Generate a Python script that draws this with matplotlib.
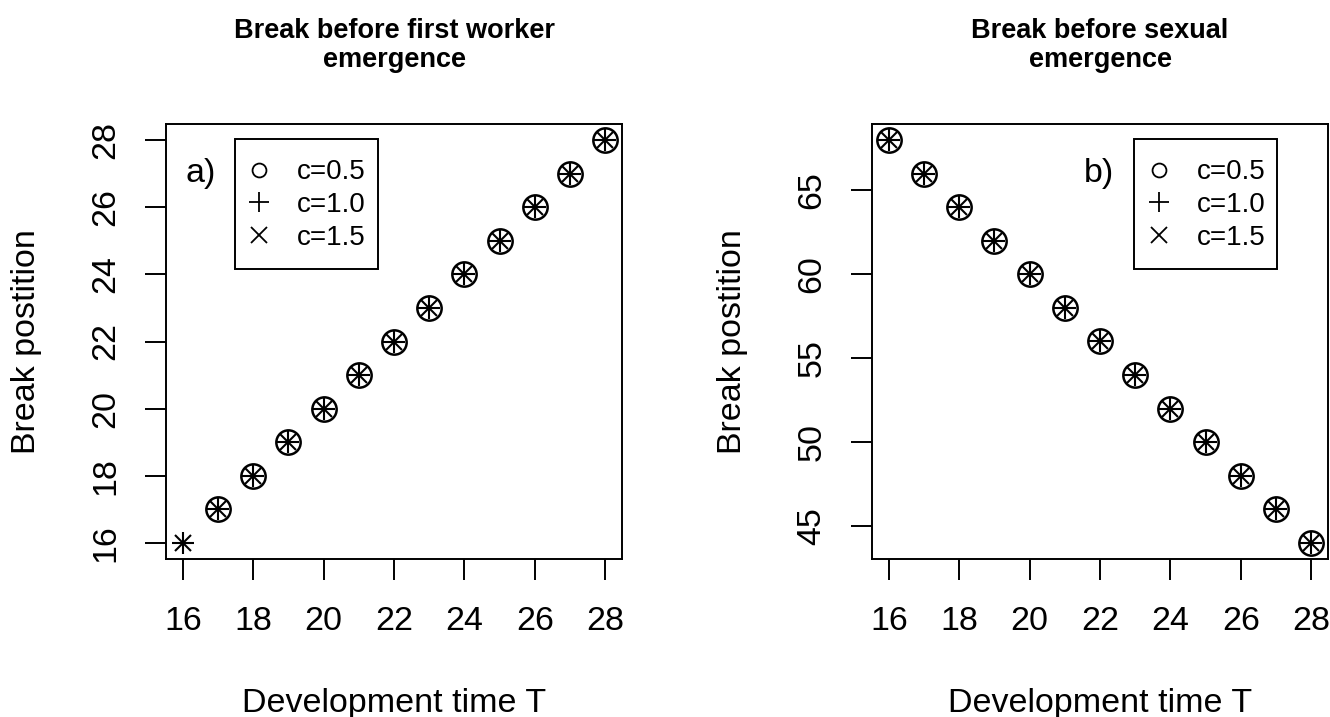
import numpy as np
import matplotlib.pyplot as plt
from matplotlib.lines import Line2D
from matplotlib.patches import Rectangle

plt.rcParams['font.family'] = ['Liberation Sans', 'DejaVu Sans']

# panel a) break before first worker emergence
T_a05 = [17, 18, 19, 20, 21, 22, 23, 24, 25, 26, 27, 28]
pos_a05 = [17, 18, 19, 20, 21, 22, 23, 24, 25, 26, 27, 28]
T_a10 = [16, 17, 18, 19, 20, 21, 22, 23, 24, 25, 26, 27, 28]
pos_a10 = [16, 17, 18, 19, 20, 21, 22, 23, 24, 25, 26, 27, 28]
T_a15 = [16, 17, 18, 19, 20, 21, 22, 23, 24, 25, 26, 27, 28]
pos_a15 = [16, 17, 18, 19, 20, 21, 22, 23, 24, 25, 26, 27, 28]

# panel b) break before sexual emergence
T_b = [16, 17, 18, 19, 20, 21, 22, 23, 24, 25, 26, 27, 28]
pos_b05 = [68, 66, 64, 62, 60, 58, 56, 54, 52, 50, 48, 46, 44]
pos_b10 = [68, 66, 64, 62, 60, 58, 56, 54, 52, 50, 48, 46, 44]
pos_b15 = [68, 66, 64, 62, 60, 58, 56, 54, 52, 50, 48, 46, 44]

labels = ['c=0.5', 'c=1.0', 'c=1.5']
xticks = [16, 18, 20, 22, 24, 26, 28]
yticks_a = [16, 18, 20, 22, 24, 26, 28]
yticks_b = [45, 50, 55, 60, 65]

fig = plt.figure(figsize=(13.3, 7.17), dpi=100)
W, H = 1330., 717.
ax1 = fig.add_axes([166 / W, (H - 559) / H, 456 / W, 435 / H])
ax2 = fig.add_axes([872 / W, (H - 559) / H, 456 / W, 435 / H])


def draw(ax, series, yticks, title, tag, tag_x, box_x, box_w, leg_x):
    styles = [dict(marker='o', markersize=17.5, mew=1.8),
              dict(marker='+', markersize=16, mew=1.5),
              dict(marker='x', markersize=11.5, mew=1.5)]
    for (xs, ys), st in zip(series, styles):
        ax.plot(xs, ys, ls='none', color='black', mfc='none', mec='black', **st)
    ymin, ymax = min(min(s[1]) for s in series), max(max(s[1]) for s in series)
    ax.set_xlim(16 - 0.48, 28 + 0.48)
    pad = (ymax - ymin) * 0.04
    ax.set_ylim(ymin - pad, ymax + pad)
    ax.set_xticks(xticks)
    ax.set_yticks(yticks)
    ax.tick_params(direction='out', length=15, width=1.4, labelsize=24.5)
    ax.tick_params(axis='x', pad=19)
    ax.tick_params(axis='y', pad=17)
    for lab in ax.get_yticklabels():
        lab.set_rotation(90)
        lab.set_va('center')
    for s in ax.spines.values():
        s.set_linewidth(1.4)
    ax.set_xlabel('Development time T', fontsize=24.5)
    ax.xaxis.label.set_va('baseline')
    ax.xaxis.set_label_coords(0.5, -0.352)
    ax.set_ylabel('Break postition', fontsize=24.5)
    ax.yaxis.set_label_coords(-0.272, 0.5)
    ax.text(0.5, 1.118, title, transform=ax.transAxes, ha='center', va='bottom',
            fontsize=19.5, fontweight='bold', linespacing=1.15)
    ax.text(tag_x, 0.887, tag, transform=ax.transAxes, ha='center', va='center',
            fontsize=24.5)
    handles = [Line2D([], [], ls='none', marker='o', markersize=10, mew=1.3,
                      mfc='none', mec='black'),
               Line2D([], [], ls='none', marker='+', markersize=14.5, mew=1.3,
                      mec='black'),
               Line2D([], [], ls='none', marker='x', markersize=11, mew=1.3,
                      mec='black')]
    ax.legend(handles, labels, loc='center left', bbox_to_anchor=(leg_x, 0.814),
              fontsize=20, frameon=False, borderpad=0, handlelength=0.95,
              handletextpad=0.88, labelspacing=0.24, borderaxespad=0)
    ax.add_patch(Rectangle((box_x, 0.667), box_w, 0.299, transform=ax.transAxes,
                           fill=False, edgecolor='black', linewidth=1.4, zorder=5))


draw(ax1, [(T_a05, pos_a05), (T_a10, pos_a10), (T_a15, pos_a15)], yticks_a,
     'Break before first worker\nemergence', 'a)', 0.075, 0.151, 0.314, 0.1754)
draw(ax2, [(T_b, pos_b05), (T_b, pos_b10), (T_b, pos_b15)], yticks_b,
     'Break before sexual\nemergence', 'b)', 0.498, 0.575, 0.313, 0.601)

fig.savefig('out.png', dpi=100)
